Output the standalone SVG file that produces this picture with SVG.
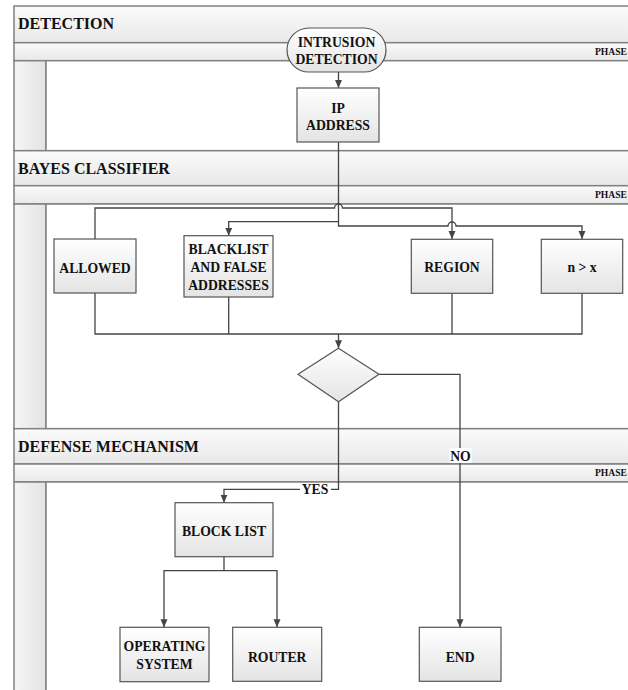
<svg xmlns="http://www.w3.org/2000/svg" width="628" height="690" viewBox="0 0 628 690">
<defs>
<linearGradient id="gBox" x1="0" y1="0" x2="0" y2="1"><stop offset="0" stop-color="#ffffff"/><stop offset="1" stop-color="#e4e4e4"/></linearGradient>
<linearGradient id="gHead" x1="0" y1="0" x2="0" y2="1"><stop offset="0" stop-color="#fbfbfb"/><stop offset="1" stop-color="#e8e8e8"/></linearGradient>
<linearGradient id="gPhase" x1="0" y1="0" x2="0" y2="1"><stop offset="0" stop-color="#fafafa"/><stop offset="1" stop-color="#e9e9e9"/></linearGradient>
<linearGradient id="gCol" x1="0" y1="0" x2="1" y2="0"><stop offset="0" stop-color="#f6f6f6"/><stop offset="1" stop-color="#e3e3e3"/></linearGradient>
<marker id="arr" markerWidth="8" markerHeight="8" refX="8" refY="3.5" orient="auto" markerUnits="userSpaceOnUse"><path d="M0,0 L8,3.5 L0,7 z" fill="#444"/></marker>
</defs>
<style>
.lane{stroke:#808080;stroke-width:1.5}
.head{font-family:"Liberation Serif","Times New Roman",serif;font-weight:bold;font-size:16px;fill:#111}
.phase{font-family:"Liberation Serif","Times New Roman",serif;font-weight:bold;font-size:9.6px;fill:#111}
.node rect,.node polygon{fill:url(#gBox);stroke:#555;stroke-width:1.2}
.node text{font-family:"Liberation Serif","Times New Roman",serif;font-weight:bold;font-size:13.7px;fill:#111;text-anchor:middle}
.conn path{fill:none;stroke:#444;stroke-width:1.3}
.lbl{font-family:"Liberation Serif","Times New Roman",serif;font-weight:bold;font-size:13.7px;fill:#111;text-anchor:middle}
</style>
<rect width="628" height="690" fill="#ffffff"/>
<g id="lanes">
  <!-- DETECTION -->
  <rect class="lane" x="14" y="6" width="630" height="36.7" fill="url(#gHead)"/>
  <rect class="lane" x="14" y="42.7" width="630" height="18" fill="url(#gPhase)"/>
  <rect class="lane" x="14" y="60.7" width="32" height="90" fill="url(#gCol)"/>
  <rect class="lane" x="46" y="60.7" width="598" height="90" fill="#ffffff"/>
  <text class="head" x="18" y="29.3">DETECTION</text>
  <text class="phase" x="627" y="55.3" text-anchor="end">PHASE</text>
  <!-- BAYES -->
  <rect class="lane" x="14" y="150.7" width="630" height="35" fill="url(#gHead)"/>
  <rect class="lane" x="14" y="185.7" width="630" height="18.3" fill="url(#gPhase)"/>
  <rect class="lane" x="14" y="204" width="32" height="224.7" fill="url(#gCol)"/>
  <rect class="lane" x="46" y="204" width="598" height="224.7" fill="#ffffff"/>
  <text class="head" x="18" y="174">BAYES CLASSIFIER</text>
  <text class="phase" x="627" y="198.3" text-anchor="end">PHASE</text>
  <!-- DEFENSE -->
  <rect class="lane" x="14" y="428.7" width="630" height="35.3" fill="url(#gHead)"/>
  <rect class="lane" x="14" y="464" width="630" height="18" fill="url(#gPhase)"/>
  <rect class="lane" x="14" y="482" width="32" height="220" fill="url(#gCol)"/>
  <rect class="lane" x="46" y="482" width="598" height="220" fill="#ffffff"/>
  <text class="head" x="18" y="452">DEFENSE MECHANISM</text>
  <text class="phase" x="627" y="476" text-anchor="end">PHASE</text>
</g>
<g id="connectors" class="conn">
  <path d="M338.5,72 V88" marker-end="url(#arr)"/>
  <path d="M338.5,142 V226 H448 A4,4 0 0 1 456,226 H582 V239" marker-end="url(#arr)"/>
  <path d="M338.5,221.7 H228.7 V235.7" marker-end="url(#arr)"/>
  <path d="M95,239 V208 H334.5 A4,4 0 0 1 342.5,208 H452 V239" marker-end="url(#arr)"/>
  <path d="M95,293 V334 H582 V293"/>
  <path d="M228.7,297 V334"/>
  <path d="M452,293 V334"/>
  <path d="M338.5,334 V348.3" marker-end="url(#arr)"/>
  <path d="M338.5,401.7 V489.3 H224 V502.7" marker-end="url(#arr)"/>
  <path d="M379,374.3 H460 V627.3" marker-end="url(#arr)"/>
  <path d="M224,556.7 V570.7"/>
  <path d="M224,570.7 H164 V627.3" marker-end="url(#arr)"/>
  <path d="M224,570.7 H277 V627.3" marker-end="url(#arr)"/>
  <rect x="300" y="483" width="31" height="14" fill="#ffffff"/>
  <text class="lbl" x="315" y="494.3">YES</text>
  <rect x="449.5" y="448" width="22" height="15" fill="#ffffff"/>
  <text class="lbl" x="460.5" y="461">NO</text>
</g>
<g id="intrusion" class="node">
  <rect x="287" y="28" width="99" height="44" rx="22" ry="22"/>
  <text x="336.5" y="46.7">INTRUSION</text>
  <text x="336.5" y="64.3">DETECTION</text>
</g>
<g id="ip" class="node">
  <rect x="297" y="88" width="82" height="54"/>
  <text x="338" y="113">IP</text>
  <text x="338" y="130">ADDRESS</text>
</g>
<g id="allowed" class="node">
  <rect x="54" y="239" width="82" height="54"/>
  <text x="95" y="272.5">ALLOWED</text>
</g>
<g id="blacklist" class="node">
  <rect x="184" y="235.7" width="89" height="61.3"/>
  <text x="228.5" y="253.5">BLACKLIST</text>
  <text x="228.5" y="272.3">AND FALSE</text>
  <text x="228.5" y="290.3">ADDRESSES</text>
</g>
<g id="region" class="node">
  <rect x="411.3" y="239.3" width="81.4" height="54"/>
  <text x="452" y="272.3">REGION</text>
</g>
<g id="nx" class="node">
  <rect x="541.3" y="239.3" width="81.4" height="54"/>
  <text x="582" y="272.3">n &gt; x</text>
</g>
<g id="decision" class="node">
  <polygon points="338.5,348.3 379,374.3 338.5,401.7 298,374.3"/>
</g>
<g id="blocklist" class="node">
  <rect x="175" y="502.7" width="98" height="54"/>
  <text x="224" y="535.5">BLOCK LIST</text>
</g>
<g id="os" class="node">
  <rect x="120" y="627.3" width="89" height="54.4"/>
  <text x="164.5" y="650.5">OPERATING</text>
  <text x="164.5" y="669">SYSTEM</text>
</g>
<g id="router" class="node">
  <rect x="232.7" y="627.3" width="89" height="54"/>
  <text x="277.2" y="661.7">ROUTER</text>
</g>
<g id="end" class="node">
  <rect x="419.3" y="627.3" width="81.7" height="54"/>
  <text x="460.2" y="661.7">END</text>
</g>
</svg>
